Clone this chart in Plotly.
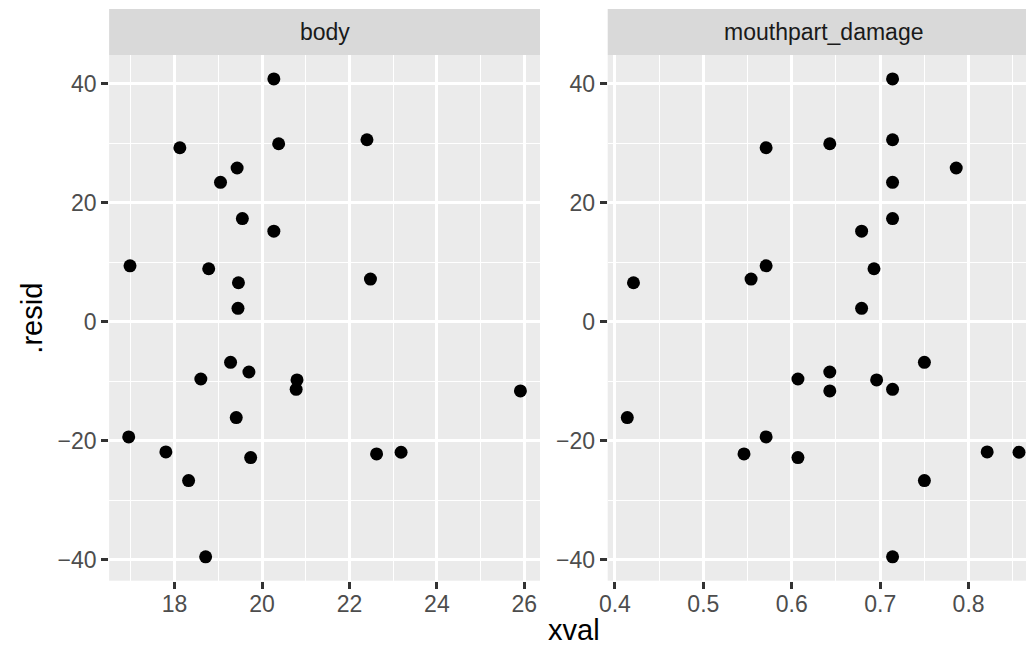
import plotly.graph_objects as go

# Residuals against each predictor, one facet per predictor
resid = [40.84, 29.26, 29.93, 30.60, 25.85, 23.44, 17.34, 15.22, 9.40, 8.90, 6.55, 7.16, 2.24,
         -6.83, -8.46, -9.64, -9.80, -11.37, -11.65, -16.13, -19.38, -21.90, -22.24, -21.96,
         -22.86, -26.72, -39.55]
body = [20.27, 18.12, 20.38, 22.40, 19.43, 19.05, 19.55, 20.27, 16.98, 18.78, 19.46, 22.48, 19.45,
        19.28, 19.70, 18.60, 20.80, 20.78, 25.91, 19.41, 16.95, 17.80, 22.62, 23.18,
        19.74, 18.32, 18.71]
mouthpart_damage = [0.714, 0.571, 0.643, 0.714, 0.786, 0.714, 0.714, 0.679, 0.571, 0.693, 0.421, 0.554, 0.679,
                    0.750, 0.643, 0.607, 0.696, 0.714, 0.643, 0.414, 0.571, 0.821, 0.546, 0.857,
                    0.607, 0.750, 0.714]
facets = ["body", "mouthpart_damage"]
y_ticks = [-40, -20, 0, 20, 40]
body_ticks = [18, 20, 22, 24, 26]
mouth_ticks = [0.4, 0.5, 0.6, 0.7, 0.8]

W, H = 1026, 649
FONT = "Liberation Sans, Arial, sans-serif"
PANEL_BG = "#EBEBEB"
STRIP_BG = "#D9D9D9"


def expand(vals, mult=0.05):
    lo, hi = min(vals), max(vals)
    pad = (hi - lo) * mult
    return lo - pad, hi + pad


# panel geometry in pixels
top, bottom = 55, 580.7
strip_top = 9
left1, right1 = 101, 535.7
left2 = 604
panel_w = right1 - left1
right2_full = left2 + panel_w        # second panel runs past the page edge

yr = expand(resid)
xr1 = expand(body)
xr2_full = expand(mouthpart_damage)
# the page clips the second panel at its right edge
frac_visible = (W - left2) / panel_w
xr2 = (xr2_full[0], xr2_full[0] + (xr2_full[1] - xr2_full[0]) * frac_visible)

ydom = [1 - bottom / H, 1 - top / H]

fig = go.Figure()
marker = dict(color="black", size=13, line=dict(width=0))
fig.add_trace(go.Scatter(x=body, y=resid, mode="markers", marker=marker,
                         xaxis="x", yaxis="y", showlegend=False, hoverinfo="skip"))
fig.add_trace(go.Scatter(x=mouthpart_damage, y=resid, mode="markers", marker=marker,
                         xaxis="x2", yaxis="y2", showlegend=False, hoverinfo="skip"))

tickfont = dict(family=FONT, size=23, color="#4D4D4D")
common = dict(showline=False, zeroline=False, showgrid=True, gridcolor="white", gridwidth=2.7,
              ticks="outside", ticklen=7, tickwidth=2.7, tickcolor="#333333",
              tickfont=tickfont, fixedrange=True)

fig.update_layout(
    width=W, height=H,
    margin=dict(l=0, r=0, t=0, b=0),
    paper_bgcolor="white", plot_bgcolor=PANEL_BG,
    font=dict(family=FONT),
    xaxis=dict(domain=[left1 / W, right1 / W], range=list(xr1), anchor="y",
               tickvals=body_ticks, ticktext=[str(v) for v in body_ticks], ticklabelstandoff=-4,
               minor=dict(dtick=1, tick0=0, showgrid=True, gridcolor="white", gridwidth=1.4, ticks=""),
               **common),
    yaxis=dict(domain=ydom, range=list(yr), anchor="x",
               tickvals=y_ticks,
               minor=dict(dtick=10, tick0=0, showgrid=True, gridcolor="white", gridwidth=1.4, ticks=""),
               **common),
    xaxis2=dict(domain=[left2 / W, 1.0], range=list(xr2), anchor="y2",
                tickvals=mouth_ticks, ticktext=[f"{v:.1f}" for v in mouth_ticks], ticklabelstandoff=-4,
                minor=dict(dtick=0.05, tick0=0, showgrid=True, gridcolor="white", gridwidth=1.4, ticks=""),
                **common),
    yaxis2=dict(domain=ydom, range=list(yr), anchor="x2",
                tickvals=y_ticks,
                minor=dict(dtick=10, tick0=0, showgrid=True, gridcolor="white", gridwidth=1.4, ticks=""),
                **common),
)

# facet strips
strip_y0, strip_y1 = 1 - top / H, 1 - strip_top / H
for xref in ["x domain", "x2 domain"]:
    fig.add_shape(type="rect", xref=xref, yref="paper", x0=0, x1=1, y0=strip_y0, y1=strip_y1,
                  fillcolor=STRIP_BG, line=dict(width=0), layer="below")

strip_font = dict(family=FONT, size=23, color="#1A1A1A")
strip_mid = (strip_y0 + strip_y1) / 2
fig.add_annotation(text=facets[0], xref="x", yref="paper", x=(xr1[0] + xr1[1]) / 2, y=strip_mid,
                   showarrow=False, font=strip_font, xanchor="center", yanchor="middle")
fig.add_annotation(text=facets[1], xref="x2", yref="paper", x=(xr2_full[0] + xr2_full[1]) / 2, y=strip_mid,
                   showarrow=False, font=strip_font, xanchor="center", yanchor="middle")

# axis titles
title_font = dict(family=FONT, size=29, color="black")
fig.add_annotation(text="xval", xref="paper", yref="paper", x=(left1 + right2_full) / 2 / W,
                   y=1 - 630 / H, showarrow=False, font=title_font, xanchor="center", yanchor="middle")
fig.add_annotation(text=".resid", xref="paper", yref="paper", x=23 / W, y=(ydom[0] + ydom[1]) / 2,
                   showarrow=False, font=title_font, textangle=-90, xanchor="center", yanchor="middle")

fig.write_html("out.html")
